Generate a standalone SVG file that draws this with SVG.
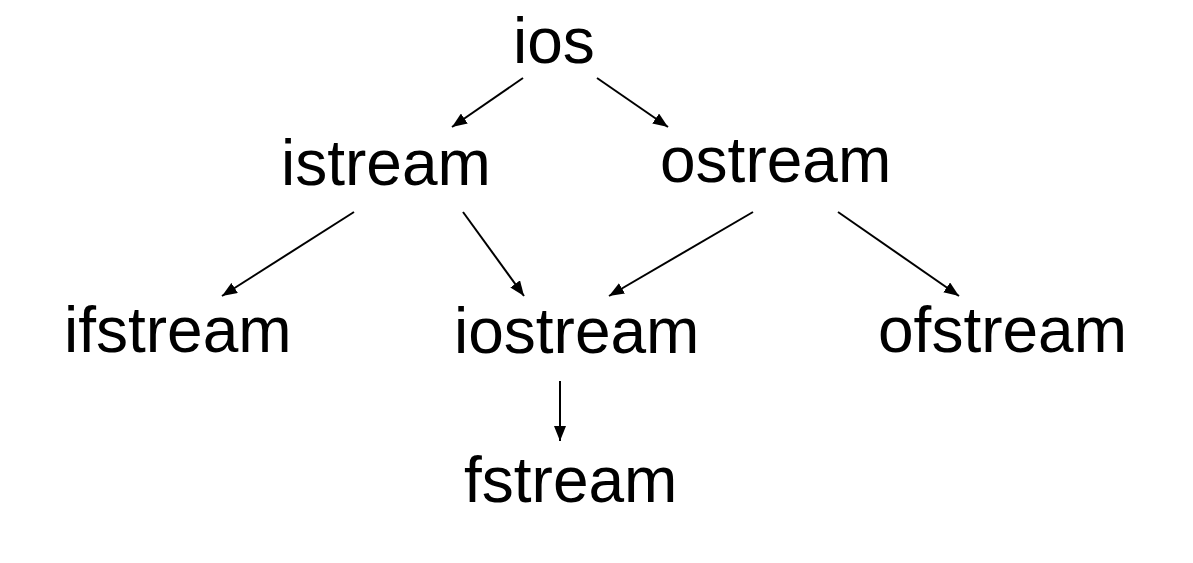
<svg xmlns="http://www.w3.org/2000/svg" width="1193" height="563" viewBox="0 0 1193 563">
<style>
.t{font-family:"Liberation Sans",Arial,sans-serif;font-size:64px;fill:#000}
.c line{stroke:#000;stroke-width:2;marker-end:url(#ah)}
</style>
<defs>
<marker id="ah" markerUnits="userSpaceOnUse" markerWidth="16" markerHeight="12" refX="15" refY="6" orient="auto">
<path d="M0,0 L15,6 L0,12 Z" fill="#000"/>
</marker>
</defs>
<rect width="1193" height="563" fill="#fff"/>
<g id="connectors" class="c">
<line x1="523" y1="78" x2="452" y2="127"/>
<line x1="597" y1="78" x2="668" y2="127"/>
<line x1="354" y1="212" x2="222" y2="296"/>
<line x1="463" y1="212" x2="524" y2="296"/>
<line x1="753" y1="212" x2="609" y2="296"/>
<line x1="838" y1="212" x2="959" y2="296"/>
<line x1="560" y1="381" x2="560" y2="441"/>
</g>
<g id="ios"><text class="t" x="513" y="63">ios</text></g>
<g id="istream"><text class="t" x="281" y="185">istream</text></g>
<g id="ostream"><text class="t" x="660" y="182">ostream</text></g>
<g id="ifstream"><text class="t" x="64" y="352">ifstream</text></g>
<g id="iostream"><text class="t" x="454" y="353">iostream</text></g>
<g id="ofstream"><text class="t" x="878" y="352">ofstream</text></g>
<g id="fstream"><text class="t" x="464" y="502">fstream</text></g>
</svg>
